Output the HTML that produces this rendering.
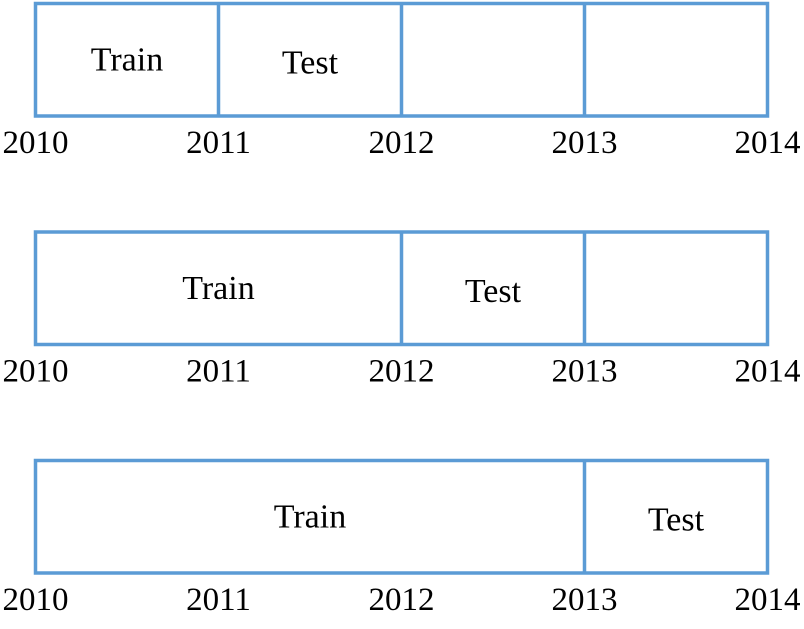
<!DOCTYPE html>
<html><head><meta charset="utf-8"><style>
html,body{margin:0;padding:0;background:#fff;}
svg{display:block;}
text{font-family:"Liberation Serif",serif;fill:#000;}
</style></head><body>
<svg id="chart" width="804" height="629" viewBox="0 0 804 629" xmlns="http://www.w3.org/2000/svg"></svg>
<script>
const years = [2010, 2011, 2012, 2013, 2014];
const trainEnd = [2011, 2012, 2013];
const testEnd = [2012, 2013, 2014];
const rowTops = [3.5, 232, 460.5];
const boxH = 112.5;
const svg = document.getElementById('chart');
const NS = 'http://www.w3.org/2000/svg';
function xs(y){ return 35.5 + (y - 2010) * 183; }
function mk(tag, attrs){ const e = document.createElementNS(NS, tag); for (const k in attrs) e.setAttribute(k, attrs[k]); svg.appendChild(e); return e; }
const stroke = '#5b9bd5';
rowTops.forEach((top, r) => {
  const box = mk('rect', {x: xs(2010), y: top, width: xs(2014) - xs(2010), height: boxH, fill: 'none', stroke: stroke, 'stroke-width': 3.5});
  
  
  for (let i = 1; i < years.length - 1; i++) {
    if (years[i] < trainEnd[r]) continue;
    const l = mk('line', {x1: xs(years[i]), x2: xs(years[i]), y1: top, y2: top + boxH, stroke: stroke, 'stroke-width': 3.5});
    
    
  }
  const tr = mk('text', {x: (xs(2010) + xs(trainEnd[r])) / 2, y: top + 67, 'font-size': 34, 'text-anchor': 'middle'});
  tr.textContent = 'Train';
  
  
  const te = mk('text', {x: (xs(trainEnd[r]) + xs(testEnd[r])) / 2, y: top + 70, 'font-size': 34, 'text-anchor': 'middle'});
  te.textContent = 'Test';
  
  
  years.forEach(y => {
    const t = mk('text', {x: Math.min(Math.max(xs(y), 33), 771), y: top + boxH + 37, 'font-size': 33, 'text-anchor': 'middle'});
    t.textContent = y;
    
    
  });
});
</script>
</body></html>
